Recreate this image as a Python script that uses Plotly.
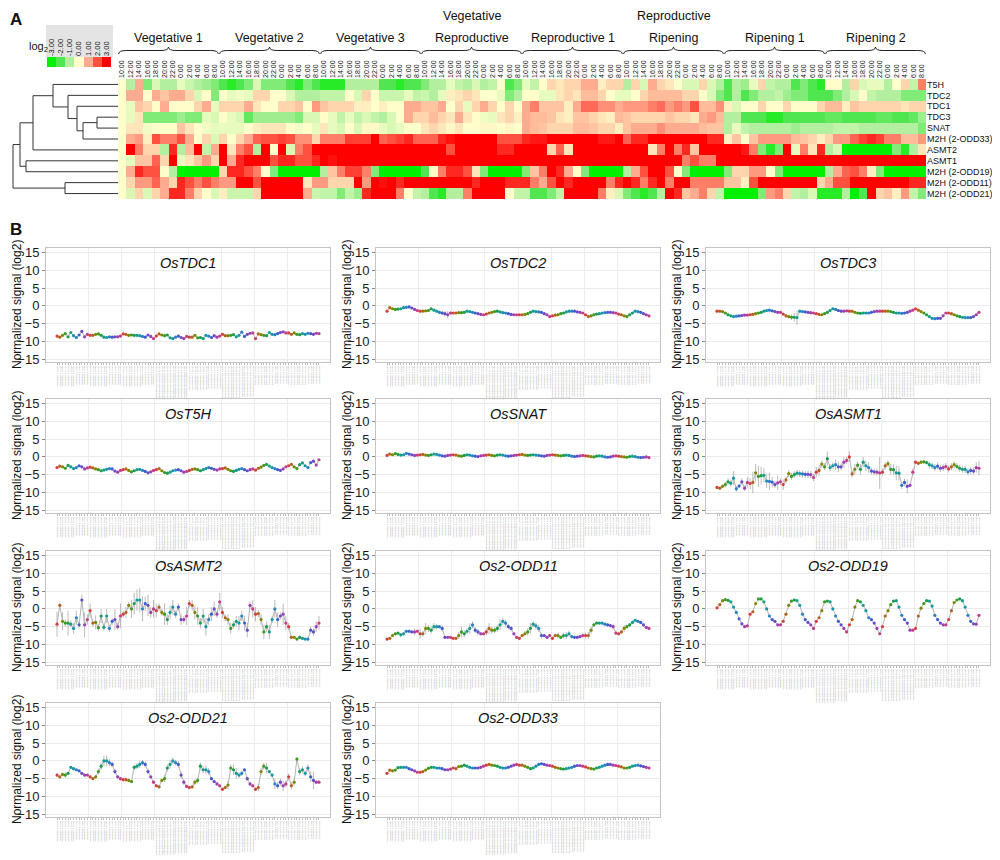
import plotly.graph_objects as go

FONT = "Liberation Sans, Arial, Helvetica, sans-serif"
OFF = 8                      # page body margin added by the browser
W, H = 1000 - OFF, 860 - OFF

# ---------------- categories ----------------
times = ["10:00", "12:00", "14:00", "16:00", "18:00", "20:00", "22:00", "0:00", "2:00", "4:00", "6:00", "8:00"]
stage_names = ["Vegetative 1", "Vegetative 2", "Vegetative 3", "Vegetative/Reproductive",
               "Reproductive 1", "Reproductive/Ripening", "Ripening 1", "Ripening 2"]
stage_head_top = ["", "", "", "Vegetative", "", "Reproductive", "", ""]
stage_head_bottom = ["Vegetative 1", "Vegetative 2", "Vegetative 3", "Reproductive",
                     "Reproductive 1", "Ripening", "Ripening 1", "Ripening 2"]
row_labels = ["T5H", "TDC2", "TDC1", "TDC3", "SNAT", "M2H (2-ODD33)", "ASMT2", "ASMT1",
              "M2H (2-ODD19)", "M2H (2-ODD11)", "M2H (2-ODD21)"]
legend_levels = [-3, -2, -1, 0, 1, 2, 3]
legend_ticks = ["-3.00", "-2.00", "-1.00", "0.00", "1.00", "2.00", "3.00"]

# ---------------- heatmap values (log2, relative) ----------------
hm_T5H = [0, -1, 1, -1.5, -0.5, -1, -1, -0.3, -0.7, -1, -1.2, -1.5,
          -2, -2.5, -2, -1.5, -0.5, -1.5, -1.5, -1.5, -2, -2.5, -1.5, -2,
          -2.5, -2.5, -2.5, -1, -1, -1, -1, -2, -2, -2.5, -2, -2,
          -1.5, -1, -1, -0.3, -0.8, -1, -0.5, -1, -0.8, 0, -2, -1.5,
          -0.3, -0.8, 0, 0.5, 0.3, 0.5, 0.5, 1, 1, 0.2, 0.5, 0.5,
          -1, 0.5, -0.5, 1, 0.5, 0.3, 0, -0.5, -0.5, 0.5, -0.5, -1,
          -2, -1, -1.2, -0.3, 0.5, -0.8, -1, -1, -2, -1.5, -2, -2.5,
          0, 0, -1, 0.5, -0.5, -0.3, -0.3, -1, 0, 0.5, -0.8, 1.5]
hm_TDC2 = [0, 1, 1, 0, 1, 0.7, 1, 1, 0.5, -0.5, 0, -1.5,
           0, -0.3, -0.2, -0.3, 0.5, 0.5, 0, 0, -0.5, -1, -1, -1,
           -0.8, -0.8, -0.8, 0, -0.5, 0.5, 0, -0.7, -0.7, -0.7, -0.3, -0.8,
           -0.7, -1, -0.3, 0.2, 0.3, 0.5, 0.3, 0, 0, -0.3, -1.5, -1,
           0, 0, -0.3, -0.3, 0.3, 0.5, 0.3, 0.8, 0.8, 0.5, 0, -0.3,
           -0.3, 0, 0.5, 0.8, 0.8, 0.8, 0.8, 0.5, 0.5, 0, -0.5, -1.5,
           -2, -1, -2, -1.5, -1, -1, -0.8, -1.2, -1.5, -1.5, -2, -2,
           -2, -1.5, -1, -0.5, 0, -0.8, -1, -1, -1, -1.5, -1.5, -1.5]
hm_TDC1 = [0, -0.3, 0.7, 0.5, 0, 1, 0, 0, 0, 0.5, 1, -0.3,
           0.5, 0.5, 0.5, 1, 0.3, 0, 0, 0.5, 0.5, 0.7, 0, 1.2,
           0.7, 0.5, 0.5, 0.5, 0.2, 0.2, 0, 0.2, 0, 0, 1, 1,
           0.7, 0.7, 1, 0, 0.5, -0.3, 0.5, 1, 0.5, 0, 0.5, 0,
           1, 1.5, 0.7, 0.7, 0.7, 0.2, 1, 1.7, 1.7, 1.3, 1.3, 1,
           1.2, 1.2, 1.2, 1.5, 1.7, 1.2, 1.5, 1.2, 2, 0.8, 0.8, 1.3,
           0.2, -0.5, 0, 0, 0.5, 0, 0, 0.5, 0, 0, 0, 0.5,
           0.8, 0.8, 0.2, 0.7, 0.5, 0.5, 0.5, 0.5, 0.5, 0.3, 0.5, 0.5]
hm_TDC3 = [0, -0.3, 0.3, -1.5, -1.5, -1.5, -1.5, -1.2, -1.5, -1.5, -0.3, -0.5,
           0, -0.3, -0.5, -1.8, -1.2, -1.2, -1.2, -1.2, -1.2, -1.5, -0.5, -0.5,
           0, -0.3, -0.8, -0.3, -0.8, -0.5, -0.8, -1, -0.5, 0, 1, 0.5,
           0.5, 0.8, 0.5, 0.3, 1, 0.3, 0, -0.2, -0.3, 0.3, 0.5, 0.2,
           1, 0.8, 0.8, 0.7, 0.3, 0.2, 0.7, 0.7, 0.5, 0.3, 0.2, 0.8,
           0.7, 0.5, 0.5, 0.5, 0.5, 0.7, 0.5, 0.5, 0.3, 1, 1.2, 0.8,
           -1, -1, -2, -2, -2, -2.5, -2.5, -2, -2, -2, -2, -2,
           -1.8, -1.8, -2, -2, -2, -2, -1.8, -1.8, -2, -2, -1.8, -1.2]
hm_SNAT = [0, 0.3, 0.3, -0.2, 0, 0, 0, 0.7, 0.3, 0, -0.2, -0.3,
           -0.3, -0.3, -0.3, 0, 0.2, 0.3, 0.3, 0.3, 0, -0.2, 0, -0.3,
           0.3, -0.3, -0.5, 0, -0.5, 0.1, 0.1, -0.3, -0.5, -0.3, 0, 0,
           0.3, 0.5, 0.3, 0.1, 0.3, 0, 0, 0.1, 0.1, 0, 0.1, 0,
           1, 0.8, 0.7, 0.5, 0.5, 0.5, 0.8, 0.8, 0.7, 0.5, 0.5, 0.2,
           0.7, 1, 1, 1, 1.3, 1, 1, 1, 1, 0.8, 0.7, 0.7,
           -1, -0.3, -0.8, -1, -1, -1, -1, -1, -1.2, -1, -1, -1,
           -1, -0.8, -0.8, -0.8, -1, -1, -1, -1, -1, -1, -1, -1.5]
hm_ODD33 = [0, 1, 1.2, 0.2, 2, 1.5, 1.5, 2, 1, 0, 0.5, -0.5,
            0.5, 0, 0.5, 1, 1.8, 2, 2, 2.2, 2, 1.3, 1.3, 0.5,
            1.5, 1.5, 1.5, 2.2, 2.2, 2.2, 3, 1.8, 2, 2.2, 2.5, 1.8,
            1.8, 1.8, 2.5, 2.8, 3, 3, 3, 3, 3, 2, 2, 2,
            2.5, 2.7, 2.7, 3, 3, 3, 3, 3, 3, 2.7, 2.7, 3,
            1.8, 2.5, 2.5, 3, 3, 3, 3, 3, 3, 3, 2.5, 2.5,
            0.2, 0.7, 0, 0.7, 1.2, 1.2, 1.2, 1.2, 0.8, 0.7, 0.5, 0.2,
            0.5, 1.2, 1.2, 1.8, 2.2, 2.5, 2.2, 1.5, 1.5, 0.8, 0.8, 1.2]
hm_ASMT2 = [0, 3, 1.5, 0.5, 0.5, -1, 2.5, -1, 0.8, 3, -0.8, 1,
            3, 0.3, 1.5, 2, -1, 3, 0, 3, -0.5, 1.5, 2, 3,
            3, 3, 3, 3, 3, 3, 3, 3, 3, 3, 3, 3,
            3, 3, 3, 2, 3, 3, 3, 3, 3, 2.5, 2.5, 3,
            3, 3, 3, 0.5, 1.8, 0.3, 3, 3, 3, 3, 3, 3,
            3, 3, 3, 0.3, 1.5, 3, 1.5, 2.5, 0.7, 3, 3, 3,
            3, 3, 2.7, 1.5, -1.5, -2.5, -1.5, 3, -0.3, 1.5, 0.3, 2.5,
            -1, -0.5, -3, -3, -3, -3, -3, -3, -1.5, -2.5, -1, 0.3]
hm_ASMT1 = [0, -0.3, 0.7, 0.7, 1.8, 0.5, 3, -0.3, 0.3, 0.7, 1.2, 0.5,
            3, 1, 2.5, 3, 3, 3, 2, 2.5, 2.5, 2, 2, 2.5,
            3, 2.8, 3, 3, 3, 3, 3, 3, 3, 3, 3, 3,
            3, 3, 3, 3, 3, 3, 3, 3, 3, 3, 3, 3,
            3, 3, 3, 3, 3, 3, 3, 3, 3, 3, 3, 3,
            3, 3, 3, 3, 3, 3, 3, 1.5, 2, 1.5, 1.5, 3,
            3, 3, 3, 3, 3, 3, 3, 3, 3, 3, 3, 3,
            3, 3, 3, 3, 3, 3, 3, 3, 3, 3, 3, 3]
hm_ODD19 = [0, 1, 2.5, 2, 2, 0, -1, -3, -3, -3, -3, -3,
            0.5, 2.5, 2.5, 2, 1.5, 0, -1.5, -3, -3, -3, -3, -3,
            -1, 0.7, 1.5, 2.2, 2.2, 1.5, -1.5, -3, -3, -3, -3, -3,
            -2, 0, 1.5, 2.5, 2.5, 2, 0.3, -1.5, -3, -3, -3, -3,
            -1.5, 0.7, 1.5, 3, 2.5, 1, 0, -1.5, -3, -3, -3, -3,
            -1, 1, 2, 3, 3, 2, 0, -1.5, -3, -3, -3, -3,
            -1.5, 0.5, 0.5, 1.2, 1.2, 0, -1.5, -3, -3, -3, -3, -3,
            -1, 1, 1.8, 2, 1.5, 0.2, -1.5, -3, -3, -3, -3, -3]
hm_ODD11 = [0, 0.5, 1.2, 1.2, 1.8, 1, 0.5, 2.5, 2, 1.5, 2, 1.5,
            1.2, 1.2, 3, 3, 2, 3, 3, 3, 3, 3, 0.3, 1.2,
            1.2, 0.5, 0.5, 0.5, 3, 1.2, 3, 2.8, 3, 2.5, 3, 3,
            3, 3, 3, 3, 3, 3, 2.5, 3, 3, 3, 2.5, 2.5,
            2.5, 1.5, 1, 2, 3, 2.5, 3, 3, 3, 3, 1.5, 2.5,
            3, 2.5, 1.5, 2.5, 3, 1.5, 3, 3, 1.5, 1.5, 1.5, 1.5,
            0.7, 0.7, 0.2, 2, 3, 3, 3, 3, 3, 3, 3, 0.5,
            1, 2, 2, 3, 3, 3, 3, 3, 3, 3, 2.5, 2.5]
hm_ODD21 = [0, -0.5, 0.5, -0.5, 0.5, 1, 2.5, 2.5, 1.5, 0.5, 0, -0.5,
            0.2, -0.7, -0.7, -0.7, 0.5, 3, 3, 3, 3, 3, 1, -0.7,
            -0.8, -0.8, -1.5, -0.8, -1.2, 2.5, 3, 3, 3, 1.5, 0, -0.8,
            -1, -2, -2.5, -1, -1, 1.5, 3, 3, 3, 3, 0, -0.8,
            -0.8, -2, -2, -1.5, -0.8, 3, 3, 3, 3, 1.5, 0.2, -0.5,
            -1.5, -2, -2.5, -2, -1, 3, 2.5, 0.7, 1, 1.5, 0.5, -0.8,
            -3, -3, -3, -3, -1.5, 1.2, 1.5, 0.5, -0.8, -1, -0.5, -2.5,
            -2.5, -2.5, -1, -3, -2, 3, 0.5, 0.7, 0.2, 1.2, -0.8, -1.5]
heat_rows = [hm_T5H, hm_TDC2, hm_TDC1, hm_TDC3, hm_SNAT, hm_ODD33, hm_ASMT2,
             hm_ASMT1, hm_ODD19, hm_ODD11, hm_ODD21]

# dendrogram merges: (node, child a, child b, merge height)
dendro_merges = [("A", 3, 4, 21), ("W", "A", 5, 35), ("V", 2, "W", 41), ("U", 1, "V", 50),
                 ("T", 0, "U", 65), ("R", "T", 6, 85), ("S", 7, 8, 92), ("P", "R", "S", 98),
                 ("Q", 9, 10, 53), ("root", "P", "Q", 105)]

# ---------------- panel B signals (normalized log2) ----------------
sig_TDC1 = [-8.5, -8.8, -8.3, -7.8, -8.7, -7.5, -8.4, -8.9, -8.2, -7.2, -8.7, -8.0,
            -8.3, -8.3, -8.0, -7.9, -8.3, -8.8, -8.9, -8.7, -8.8, -8.7, -8.7, -8.5,
            -7.9, -8.0, -8.3, -8.2, -8.3, -8.3, -8.4, -8.6, -8.8, -8.2, -8.6, -9.2,
            -8.5, -7.9, -8.2, -8.4, -8.2, -9.0, -9.2, -8.8, -8.5, -8.9, -9.2, -8.6,
            -8.8, -8.8, -8.3, -9.0, -8.9, -9.2, -8.3, -8.5, -8.9, -8.4, -8.8, -8.5,
            -8.0, -8.4, -8.4, -8.3, -8.1, -8.7, -8.3, -7.4, -8.6, -8.0, -7.7, -7.6,
            -9.2, -7.9, -8.1, -8.3, -8.4, -7.5, -8.0, -8.1, -7.8, -7.5, -7.3, -7.6,
            -7.6, -8.0, -7.6, -8.0, -8.1, -7.8, -8.0, -7.7, -7.8, -8.0, -7.7, -7.8]
sig_TDC2 = [-1.5, -0.5, -0.8, -1.0, -0.9, -0.8, -0.5, -0.4, -0.3, -0.6, -1.0, -1.3,
            -1.5, -1.5, -1.4, -1.3, -0.8, -1.2, -1.5, -1.8, -2.0, -2.2, -2.5, -2.0,
            -2.0, -2.0, -1.9, -1.9, -1.8, -1.5, -1.6, -1.8, -2.0, -2.2, -2.4, -2.5,
            -2.3, -2.0, -1.8, -1.6, -1.5, -1.7, -1.9, -2.0, -2.2, -2.4, -2.5, -2.5,
            -2.5, -2.5, -2.4, -2.2, -1.8, -1.5, -1.6, -1.7, -1.8, -2.2, -2.5, -3.0,
            -2.8, -2.6, -2.5, -2.2, -2.0, -1.7, -1.5, -1.5, -1.5, -1.7, -1.8, -2.0,
            -2.5, -3.0, -2.8, -2.5, -2.3, -2.2, -2.0, -1.9, -1.8, -1.8, -1.9, -2.0,
            -2.3, -2.5, -2.8, -3.0, -2.5, -2.0, -1.5, -1.6, -1.8, -2.2, -2.5, -2.8]
sig_TDC3 = [-1.5, -1.5, -1.6, -2.0, -2.5, -2.8, -3.0, -2.9, -2.8, -2.7, -2.6, -2.6,
            -2.5, -2.4, -2.2, -2.0, -1.8, -1.5, -1.3, -1.2, -1.4, -1.6, -1.8, -1.8,
            -2.3, -2.8, -3.0, -3.2, -3.2, -3.3, -1.5, -1.6, -1.7, -1.8, -1.9, -2.0,
            -2.2, -2.4, -2.5, -2.2, -1.8, -1.3, -0.8, -1.0, -1.3, -1.5, -1.5, -1.4,
            -1.5, -1.5, -1.8, -2.0, -2.1, -2.0, -2.0, -2.0, -1.8, -1.6, -1.5, -1.5,
            -1.5, -1.5, -1.5, -1.6, -1.8, -2.0, -2.0, -2.1, -2.0, -1.8, -1.5, -1.2,
            -0.8, -1.2, -1.6, -2.0, -2.5, -3.0, -3.5, -3.6, -3.5, -3.5, -2.8, -2.0,
            -2.0, -2.2, -2.5, -2.8, -3.0, -3.2, -3.3, -3.3, -3.3, -3.0, -2.5, -1.8]
sig_T5H = [-3.0, -2.6, -2.8, -3.2, -2.4, -2.8, -3.3, -3.0, -2.5, -2.8, -3.4, -3.1,
           -2.9, -3.1, -3.4, -3.6, -3.9, -3.7, -3.5, -3.3, -3.4, -4.0, -4.3, -3.8,
           -3.6, -3.4, -3.8, -4.2, -3.9, -3.6, -3.5, -3.8, -4.1, -4.5, -4.2, -3.8,
           -3.6, -3.3, -3.9, -4.4, -4.6, -4.3, -3.9, -3.7, -3.6, -3.9, -4.3, -4.1,
           -3.8, -3.5, -3.4, -3.6, -3.9, -3.6, -3.3, -3.0, -3.2, -3.5, -3.7, -3.4,
           -3.3, -3.1, -3.5, -3.9, -4.1, -3.8, -3.5, -3.3, -3.6, -3.9, -3.6, -3.4,
           -3.7, -3.2, -2.9, -2.4, -2.1, -2.6, -3.0, -3.3, -3.6, -3.8, -3.4, -2.8,
           -2.5, -2.1, -2.8, -3.3, -2.2, -1.7, -2.5, -3.0, -1.6, -1.2, -2.3, -0.8]
sig_SNAT = [0.4, 0.8, 0.6, 0.9, 0.7, 0.5, 0.6, 1.0, 0.8, 0.6, 0.4, 0.5,
            0.6, 0.7, 0.5, 0.4, 0.6, 0.8, 0.7, 0.5, 0.3, 0.2, 0.4, 0.5,
            0.6, 0.5, 0.3, 0.2, 0.4, 0.6, 0.5, 0.3, 0.2, 0.1, 0.3, 0.4,
            0.5, 0.6, 0.4, 0.3, 0.5, 0.6, 0.5, 0.3, 0.2, 0.3, 0.4, 0.5,
            0.6, 0.7, 0.5, 0.4, 0.5, 0.6, 0.5, 0.4, 0.3, 0.2, 0.4, 0.5,
            0.6, 0.5, 0.4, 0.3, 0.4, 0.5, 0.4, 0.2, 0.1, 0.2, 0.3, 0.4,
            0.3, 0.2, 0.1, 0.0, 0.2, 0.3, 0.2, 0.0, -0.1, 0.0, 0.2, 0.3,
            0.2, 0.1, 0.0, -0.1, 0.1, 0.2, 0.1, -0.1, -0.2, -0.1, 0.0, -0.2]
sig_ASMT1 = [-8.6, -8.8, -8.3, -7.8, -7.0, -7.4, -6.0, -9.0, -8.2, -7.0, -8.8, -7.2,
             -7.5, -7.2, -4.5, -5.5, -5.3, -5.2, -6.8, -6.9, -7.1, -7.8, -7.3, -7.0,
             -7.8, -6.5, -4.7, -5.5, -5.0, -4.6, -4.7, -4.8, -4.9, -4.9, -5.0, -5.8,
             -4.3, -3.8, -2.0, -2.8, -0.5, -3.0, -2.5, -2.2, -2.8, -2.8, -1.5, -1.0,
             0.0, -4.8, -3.5, -2.3, -3.5, -1.5, -2.5, -3.0, -4.0, -4.2, -4.3, -4.5,
             -4.3, -2.5, -1.9, -3.5, -3.6, -4.5, -4.6, -8.0, -7.2, -8.3, -8.0, -4.3,
             -1.5, -1.8, -1.5, -1.4, -1.6, -2.2, -2.5, -3.0, -2.6, -3.2, -3.0, -2.7,
             -3.4, -2.8, -2.2, -2.7, -3.2, -3.5, -3.5, -4.2, -3.8, -4.0, -3.0, -3.2]
sig_ASMT2 = [-4.3, 1, -3.5, -4, -4, -4.3, -5.5, -2.5, -4.5, 2.5, -4.5, -3,
             -0.5, -4, -3.8, -5.3, -2, -5.2, -2, -5.5, -3.5, -3, -5, -2,
             -1.5, -1, 1, 0, 1.5, 2.5, 2.5, 0, 1.5, 1, -1, 0,
             -0.5, 0.5, -1, -1.5, -3, -1, 0.5, -1.5, 0.5, -3, -3, -2,
             1.5, 1, -1, -2, -4, -2, -5, -3, -1.5, 0, -1.5, 2,
             -1, -2.5, -3, -5.5, -4.5, -3.5, -4, -2, -4, -6, 1, 0,
             -1.5, -1.3, -3, -6.5, -5, -6.5, -3, 0, -3, -2, -1.5, -4,
             -5, -8, -8, -8.5, -8, -8.3, -8.5, -8.5, -6, -6.5, -5, -4]
sig_ODD11 = [-8.5, -8.3, -7.5, -7, -6.8, -7.3, -7, -6.3, -6.3, -6.5, -6.5, -6.3,
             -7, -7, -5.5, -5.5, -6, -5, -5, -5, -5.5, -8, -8, -8,
             -8.3, -8.3, -7.5, -6.5, -7, -6.3, -5.5, -4.5, -6, -6.5, -7, -7,
             -6.5, -5.5, -6, -6, -5.5, -4.5, -3.5, -4, -5, -5.5, -7, -8,
             -8.3, -7.5, -7, -6.5, -5.5, -4.3, -4.8, -5.5, -7.5, -7.5, -8, -7.5,
             -8.3, -7.5, -7.5, -8, -7.5, -7.5, -7, -7.8, -8, -8, -7.8, -7.5,
             -7.5, -7.5, -6, -4.5, -4, -4, -4, -4.3, -4.5, -4.7, -5, -6.8,
             -7, -6.5, -5.5, -5, -4.5, -3.8, -3.2, -3.5, -3.8, -4.5, -5.2, -5.5]
sig_ODD19 = [0.3, 1.2, 2.3, 2.6, 2.4, 2.0, 0.5, -1.0, -2.8, -4.2, -5.0, -4.8,
             -1.5, -0.8, 1.5, 2.8, 2.8, 2.0, 0.0, -2.0, -3.0, -3.5, -4.5, -4.5,
             -3.5, -1.5, 1.0, 2.2, 2.5, 2.3, 1.0, -1.5, -3.0, -3.8, -4.5, -5.5,
             -3.5, -2.5, -0.5, 2.0, 2.2, 2.0, 0.0, -2.0, -3.5, -4.5, -5.5, -6.5,
             -4.5, -3.0, 0.5, 2.3, 2.0, 1.0, -0.5, -2.5, -3.0, -4.0, -5.5, -7.0,
             -5.0, -2.0, -0.5, 1.2, 2.2, 2.3, 0.5, -1.8, -3.0, -4.0, -6.0, -6.0,
             -5.5, -2.0, 0.2, 1.5, 2.3, 2.2, 0.8, -1.8, -3.0, -4.0, -4.5, -4.5,
             -3.0, -0.5, 1.8, 2.5, 2.8, 2.3, 0.5, -1.8, -3.5, -4.2, -4.3, -1.8]
sig_ODD21 = [-4, -4.5, -3.8, -4, -3.5, -1.8, -2.2, -2.5, -2.8, -3.5, -4, -4,
             -4.5, -5, -4.5, -3, -1.5, 0, 0, -0.5, -1, -3, -4.5, -5,
             -5.3, -5.3, -5.5, -5.8, -1.8, -1.5, -1, -0.5, -1, -3, -4.5, -6,
             -7, -7.3, -5.5, -5, -2, -1, 0, -0.5, -1, -4, -6, -7.2,
             -7.5, -7.3, -6, -5.5, -1.5, -2.5, -2.5, -3, -5, -5.8, -6.5, -7,
             -8, -7.5, -6.8, -2, -2.5, -3.5, -4, -3.5, -2.5, -5, -6.5, -7,
             -8, -7.5, -3, -1.5, -2, -3, -4, -6.5, -7, -6, -7, -6.5,
             -4.5, -7, -6, 0.5, -3, -2.5, -3.5, -2, -4.5, -5.5, -6, -6]
sig_ODD33 = [-3.5, -2.6, -2.8, -2.6, -1.9, -1.8, -1.8, -1.8, -2.2, -2.5, -2.8, -3.2,
             -3.2, -3.0, -2.6, -2.1, -1.8, -1.8, -2.0, -2.0, -2.2, -2.5, -2.5, -2.3,
             -2.0, -2.2, -1.6, -1.5, -1.2, -1.5, -1.8, -2.0, -2.0, -2.0, -1.8, -1.5,
             -1.2, -1.0, -1.2, -1.3, -1.5, -1.8, -2.0, -2.0, -1.8, -1.5, -1.2, -1.0,
             -1.2, -1.2, -1.5, -1.8, -2.2, -2.0, -1.5, -1.0, -0.8, -1.0, -1.2, -1.3,
             -1.5, -1.8, -2.0, -2.2, -2.3, -2.2, -2.0, -1.8, -1.5, -1.3, -1.3, -1.5,
             -1.7, -2.0, -2.2, -2.3, -2.0, -1.8, -1.5, -1.2, -1.0, -1.0, -1.2, -1.3,
             -1.5, -1.7, -2.0, -2.0, -1.8, -1.5, -1.3, -1.2, -1.4, -1.6, -1.8, -2.0]

# error bar half-ranges
err_TDC3 = [0.2, 0.2, 0.2, 0.3, 0.3, 0.3, 0.3, 0.2, 0.2, 0.2, 0.2, 0.2,
            0.2, 0.2, 0.2, 0.2, 0.2, 0.3, 0.3, 0.3, 0.2, 0.2, 0.2, 0.2,
            0.3, 0.5, 0.5, 0.8, 1.2, 2.0, 0.3, 0.2, 0.2, 0.2, 0.2, 0.2,
            0.2, 0.2, 0.3, 0.2, 0.2, 0.2, 0.3, 0.2, 0.2, 0.2, 0.2, 0.2,
            0.2, 0.2, 0.2, 0.2, 0.3, 0.2, 0.2, 0.2, 0.2, 0.2, 0.2, 0.2,
            0.2, 0.2, 0.2, 0.2, 0.2, 0.2, 0.2, 0.2, 0.2, 0.2, 0.2, 0.2,
            0.2, 0.2, 0.2, 0.2, 0.2, 0.2, 0.2, 0.2, 0.2, 0.2, 0.2, 0.2,
            0.2, 0.2, 0.2, 0.2, 0.2, 0.2, 0.2, 0.2, 0.2, 0.2, 0.2, 0.2]
err_TDC2 = [0.2, 0.3, 0.2, 0.2, 0.2, 0.2, 0.2, 0.2, 0.2, 0.2, 0.2, 0.3,
            0.2, 0.2, 0.2, 0.2, 0.3, 0.2, 0.3, 0.5, 0.6, 0.8, 1.0, 0.4,
            0.3, 0.2, 0.2, 0.2, 0.2, 0.2, 0.2, 0.2, 0.2, 0.2, 0.2, 0.2,
            0.2, 0.2, 0.2, 0.2, 0.2, 0.2, 0.2, 0.2, 0.2, 0.2, 0.2, 0.2,
            0.2, 0.2, 0.2, 0.2, 0.2, 0.2, 0.2, 0.2, 0.2, 0.2, 0.3, 0.3,
            0.3, 0.5, 0.5, 0.3, 0.2, 0.2, 0.2, 0.2, 0.2, 0.2, 0.2, 0.2,
            0.3, 0.3, 0.5, 0.5, 0.3, 0.2, 0.2, 0.2, 0.2, 0.2, 0.2, 0.2,
            0.2, 0.2, 0.2, 0.3, 0.2, 0.2, 0.2, 0.2, 0.2, 0.2, 0.2, 0.2]
err_ASMT1 = [0.3, 0.3, 0.5, 0.8, 1, 1, 2, 0.8, 0.5, 1, 0.8, 1.5,
             1.5, 3, 2.5, 3, 2.5, 2, 2, 2.5, 1.5, 1, 2, 1,
             1.5, 1, 1, 1, 1, 1, 1, 1, 1, 1, 1, 1,
             1.5, 1.5, 1, 1, 2, 1, 1, 1.5, 1.5, 1, 1.5, 1,
             1.5, 1, 1.5, 1, 1.5, 1.5, 1.5, 1.5, 1, 1, 1, 4.5,
             1, 1, 1, 1.5, 1.5, 2, 2, 1, 1, 2, 0.5, 1,
             0.5, 0.5, 0.5, 0.5, 0.5, 1, 1, 1, 1, 1, 1, 1,
             1, 1, 1, 1, 1, 1, 1, 1, 1, 1, 1.5, 2]
err_ASMT2 = [3.5, 0.5, 2.5, 1, 3.5, 1, 1.5, 2, 1, 1.5, 3.5, 1.5,
             2, 1, 2, 1, 2, 1, 2, 1, 1, 3, 1, 3.5,
             1, 1.5, 1, 2.5, 3, 3, 3.5, 3.5, 2, 3, 1.5, 2.5,
             2, 1, 1, 3, 1.5, 2, 2, 1, 1, 1.5, 1, 2.5,
             1, 1.5, 2, 2.5, 1.5, 2, 2.5, 1.5, 2, 2, 1, 2.5,
             1.5, 1, 1.5, 1.5, 1, 1.5, 2, 1.5, 2, 2, 1, 2.5,
             2, 1, 1.5, 2, 1.5, 2, 1, 2.5, 2, 1, 3, 2,
             1, 0.5, 0.3, 0.3, 0.5, 0.3, 0.3, 0.5, 1, 1, 1.5, 2]
err_ODD11 = [0.3, 0.3, 0.5, 0.5, 0.3, 0.5, 0.5, 0.5, 0.3, 0.3, 1, 0.5,
             1.5, 0.8, 1.5, 1, 1, 1, 0.8, 0.5, 0.8, 0.3, 0.3, 0.3,
             0.3, 0.5, 1, 1.5, 1, 0.8, 1.5, 1, 0.8, 0.8, 0.5, 0.5,
             1, 1.5, 1, 0.8, 1, 1.5, 1, 1, 0.8, 0.8, 0.5, 0.3,
             0.3, 0.5, 0.8, 1, 1.5, 0.8, 1, 1, 0.8, 0.5, 0.5, 0.5,
             0.5, 0.5, 0.8, 0.5, 0.8, 1, 0.8, 0.5, 0.5, 0.5, 0.5, 0.8,
             0.8, 1, 1, 0.5, 0.3, 0.3, 0.3, 0.3, 0.5, 0.5, 0.8, 0.5,
             0.5, 0.5, 1, 0.5, 0.5, 0.5, 0.3, 0.3, 0.3, 0.5, 0.3, 0.3]
err_ODD21 = [0.5, 0.5, 0.5, 0.8, 0.5, 0.3, 0.3, 0.3, 0.3, 0.3, 0.5, 0.3,
             0.5, 0.3, 0.5, 0.8, 1, 1.5, 1.5, 1, 0.8, 0.8, 0.5, 0.5,
             0.5, 0.5, 0.5, 0.5, 0.8, 0.8, 1, 0.8, 0.8, 0.8, 0.5, 0.5,
             0.5, 0.5, 0.5, 1, 1, 1.2, 1, 0.8, 1, 1, 0.8, 0.5,
             0.5, 0.5, 0.8, 0.8, 1, 1, 1.2, 1, 0.5, 0.5, 0.5, 0.5,
             0.5, 0.5, 1.2, 1, 1.5, 1.5, 0.8, 0.8, 0.5, 0.5, 0.5, 0.5,
             0.5, 1, 1, 1, 1.5, 0.5, 0.5, 1.5, 1, 1, 1.5, 1,
             1, 1, 1, 0.5, 1, 1, 0.8, 1, 1.5, 2.5, 0.5, 0.5]

panel_titles = ["OsTDC1", "OsTDC2", "OsTDC3", "OsT5H", "OsSNAT", "OsASMT1",
                "OsASMT2", "Os2-ODD11", "Os2-ODD19", "Os2-ODD21", "Os2-ODD33"]
panel_signals = [sig_TDC1, sig_TDC2, sig_TDC3, sig_T5H, sig_SNAT, sig_ASMT1,
                 sig_ASMT2, sig_ODD11, sig_ODD19, sig_ODD21, sig_ODD33]
panel_errors = [None, err_TDC2, err_TDC3, None, None, err_ASMT1,
                err_ASMT2, err_ODD11, None, err_ODD21, None]

# ---------------- styles ----------------
heat_scale = [[0.0, "#00f000"], [1 / 6, "#4fe64f"], [2 / 6, "#b2f0a0"], [0.5, "#ffffcc"],
              [4 / 6, "#ffab8f"], [5 / 6, "#ff5040"], [1.0, "#ff0000"]]
time_colors = ["#D4403F", "#B3621C", "#808600", "#3E9A1E", "#1A9C4C", "#139E86",
               "#1595A8", "#2A82C6", "#3B5ECF", "#6A4AC6", "#9A3FB6", "#C23C88"]


def px(x):
    """screen x (px) -> paper fraction"""
    return min(1.0, max(0.0, (x - OFF) / W))


def py(y):
    """screen y (px) -> paper fraction"""
    return min(1.0, max(0.0, 1 - (y - OFF) / H))


fig = go.Figure()
layout = dict(template="none", width=W, height=H,
              margin=dict(l=0, r=0, t=0, b=0, pad=0, autoexpand=False),
              paper_bgcolor="white", plot_bgcolor="white",
              font=dict(family=FONT, color="#111"), showlegend=False)
annotations = []
shapes = []

# ---------------- Panel A: heatmap ----------------
n_cols = len(times) * len(stage_names)
col_idx = list(range(n_cols))
hm_top, hm_bot = 79, 199
fig.add_trace(go.Heatmap(z=heat_rows, x=col_idx, y=list(range(len(row_labels))),
                         colorscale=heat_scale, zmin=-3, zmax=3, showscale=False,
                         xaxis="x", yaxis="y", hoverinfo="skip"))
layout["xaxis"] = dict(domain=[px(118), px(926)], anchor="y", range=[-0.5, n_cols - 0.5],
                       side="top", tickmode="array", tickvals=col_idx,
                       ticktext=times * len(stage_names), tickangle=-90,
                       tickfont=dict(size=7, color="#111"), ticks="", showgrid=False,
                       zeroline=False, showline=False, automargin=False)
layout["yaxis"] = dict(domain=[py(hm_bot), py(hm_top)], anchor="x",
                       range=[len(row_labels) - 0.5, -0.5], side="right",
                       tickmode="array", tickvals=list(range(len(row_labels))),
                       ticktext=row_labels, tickfont=dict(size=9, color="#111"),
                       ticks="", showgrid=False, zeroline=False, showline=False,
                       automargin=False)

# colour key
shapes.append(dict(type="rect", xref="paper", yref="paper", x0=px(46), x1=px(113),
                   y0=py(57), y1=py(25), fillcolor="#e4e4e4", line=dict(width=0),
                   layer="below"))
fig.add_trace(go.Heatmap(z=[legend_levels], x=list(range(len(legend_levels))), y=[0],
                         colorscale=heat_scale, zmin=-3, zmax=3, showscale=False,
                         xaxis="x2", yaxis="y2", hoverinfo="skip"))
layout["xaxis2"] = dict(domain=[px(47), px(111)], anchor="y2",
                        range=[-0.5, len(legend_levels) - 0.5], side="top",
                        tickmode="array", tickvals=list(range(len(legend_levels))),
                        ticktext=legend_ticks, tickangle=-90,
                        tickfont=dict(size=7.5, color="#111"), ticks="",
                        showgrid=False, zeroline=False, automargin=False)
layout["yaxis2"] = dict(domain=[py(67), py(57)], anchor="x2", range=[-0.5, 0.5],
                        showticklabels=False, ticks="", showgrid=False, zeroline=False,
                        automargin=False)
annotations.append(dict(text="log<sub>2</sub>", x=px(27), y=py(47), xref="paper",
                        yref="paper", showarrow=False, xanchor="left", yanchor="middle",
                        font=dict(size=11, color="#111")))

# dendrogram
pos = {i: (0.0, float(i)) for i in range(len(row_labels))}
dx, dy = [], []
for name, a, b, h in dendro_merges:
    ha, ya = pos[a]
    hb, yb = pos[b]
    dx += [ha, h, h, hb, None]
    dy += [ya, ya, yb, yb, None]
    pos[name] = (h, (ya + yb) / 2)
fig.add_trace(go.Scatter(x=dx, y=dy, mode="lines", line=dict(color="#333", width=1),
                         xaxis="x3", yaxis="y3", hoverinfo="skip"))
layout["xaxis3"] = dict(domain=[px(OFF), px(118)], anchor="y3", range=[118 - OFF, 0],
                        visible=False, automargin=False)
layout["yaxis3"] = dict(domain=[py(hm_bot), py(hm_top)], anchor="x3",
                        range=[len(row_labels) - 0.5, -0.5], visible=False,
                        automargin=False)

# stage braces and headers
yb_, yh_, yp_ = py(54), py(50.5), py(47)
for s in range(len(stage_names)):
    x0 = 12 * s - 0.42
    x1 = 12 * s + 11.42
    xm = (x0 + x1) / 2
    d = 0.9
    path = (f"M {x0},{yb_} Q {x0},{yh_} {x0 + d},{yh_} L {xm - d},{yh_} "
            f"Q {xm},{yh_} {xm},{yp_} Q {xm},{yh_} {xm + d},{yh_} "
            f"L {x1 - d},{yh_} Q {x1},{yh_} {x1},{yb_}")
    shapes.append(dict(type="path", xref="x", yref="paper", path=path,
                       line=dict(color="#222", width=1)))
    annotations.append(dict(text=stage_head_bottom[s], x=xm, y=py(38), xref="x",
                            yref="paper", showarrow=False, xanchor="center",
                            yanchor="middle", font=dict(size=12.5)))
    if stage_head_top[s]:
        annotations.append(dict(text=stage_head_top[s], x=xm, y=py(16), xref="x",
                                yref="paper", showarrow=False, xanchor="center",
                                yanchor="middle", font=dict(size=12.5)))

annotations.append(dict(text="<b>A</b>", x=px(8), y=py(4), xref="paper", yref="paper",
                        showarrow=False, xanchor="left", yanchor="top",
                        font=dict(size=17, color="#111")))
annotations.append(dict(text="<b>B</b>", x=px(8), y=py(218), xref="paper", yref="paper",
                        showarrow=False, xanchor="left", yanchor="top",
                        font=dict(size=17, color="#111")))

# ---------------- Panel B: line plots ----------------
sample_labels = [f"{st} {t}" for st in stage_names for t in times]
point_colors = [time_colors[i % len(times)] for i in range(n_cols)]
stage_bounds = [12 * k - 0.5 for k in range(1, len(stage_names))]
col_left = [46, 376, 706]
row_top = [248, 399, 551, 703]
pw, ph = 284, 114

for k, (title, vals, errs) in enumerate(zip(panel_titles, panel_signals, panel_errors)):
    r, c = divmod(k, 3)
    n = 4 + k
    left, top = col_left[c], row_top[r]
    right, bottom = left + pw, top + ph
    xs = list(range(len(vals)))
    ey = dict(type="data", array=errs, color="#a8a8a8", thickness=0.8, width=0) \
        if errs is not None else dict(visible=False)
    fig.add_trace(go.Scatter(x=xs, y=vals, mode="lines+markers",
                             line=dict(color="#b4b4b4", width=1),
                             marker=dict(color=point_colors[:len(vals)], size=3.2),
                             error_y=ey, xaxis=f"x{n}", yaxis=f"y{n}",
                             hoverinfo="skip"))
    layout[f"xaxis{n}"] = dict(domain=[px(left), px(right)], anchor=f"y{n}",
                               range=[-4, 99], tickmode="array", tickvals=xs,
                               ticktext=sample_labels, tickangle=-90,
                               tickfont=dict(size=2.5, color="#9a9a9a"),
                               ticks="outside", ticklen=2, tickcolor="#bbb",
                               showgrid=False, zeroline=False, automargin=False,
                               showline=True, mirror=True, linecolor="#c4c4c4",
                               minor=dict(tickmode="array", tickvals=stage_bounds,
                                          showgrid=True, gridcolor="#ececec", ticks=""))
    layout[f"yaxis{n}"] = dict(domain=[py(bottom), py(top)], anchor=f"x{n}",
                               range=[-15.8, 16.3], tickmode="array",
                               tickvals=[-15, -10, -5, 0, 5, 10, 15],
                               tickfont=dict(size=13, color="#1a1a1a"),
                               ticks="outside", ticklen=3, tickcolor="#888",
                               showgrid=True, gridcolor="#ebebeb", zeroline=False,
                               showline=True, mirror=True, linecolor="#c4c4c4",
                               automargin=False)
    annotations.append(dict(text=f"<i>{title}</i>", x=px((left + right) / 2),
                            y=py(top + 15), xref="paper", yref="paper",
                            showarrow=False, xanchor="center", yanchor="middle",
                            font=dict(size=14.5, color="#111")))
    annotations.append(dict(text="Normalized signal (log2)", x=px(left - 29),
                            y=py((top + bottom) / 2), xref="paper", yref="paper",
                            showarrow=False, textangle=-90, xanchor="center",
                            yanchor="middle", font=dict(size=12, color="#111")))

layout["annotations"] = annotations
layout["shapes"] = shapes
fig.update_layout(**layout)
fig.write_html("out.html")
